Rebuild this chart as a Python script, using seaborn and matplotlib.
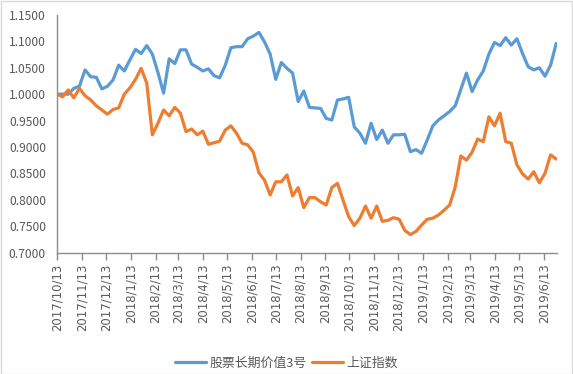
import matplotlib
matplotlib.use("Agg")
import matplotlib.pyplot as plt
from matplotlib.patches import Rectangle
import numpy as np
import pandas as pd
import seaborn as sns

# ---- data ----
series_names = ["股票长期价值3号", "上证指数"]
start_date = "2017-10-13"

fund_values = [
    1.000, 1.000, 1.000, 1.011, 1.015, 1.046, 1.033, 1.032, 1.010, 1.015,
    1.027, 1.055, 1.044, 1.065, 1.085, 1.077, 1.092, 1.076, 1.041, 1.002,
    1.067, 1.058, 1.084, 1.084, 1.057, 1.051, 1.044, 1.048, 1.035, 1.031,
    1.055, 1.088, 1.090, 1.090, 1.105, 1.110, 1.117, 1.099, 1.076, 1.028,
    1.060, 1.049, 1.040, 0.986, 1.006, 0.975, 0.974, 0.973, 0.954, 0.951,
    0.989, 0.991, 0.994, 0.938, 0.926, 0.907, 0.945, 0.914, 0.932, 0.907,
    0.923, 0.923, 0.924, 0.891, 0.895, 0.888, 0.913, 0.940, 0.951, 0.959,
    0.967, 0.978, 1.009, 1.040, 1.005, 1.027, 1.044, 1.076, 1.098, 1.092,
    1.107, 1.093, 1.105, 1.077, 1.052, 1.046, 1.050, 1.034, 1.055, 1.096,
]

index_values = [
    1.000, 0.995, 1.008, 0.993, 1.011, 0.997, 0.989, 0.978, 0.970, 0.962,
    0.971, 0.974, 1.000, 1.012, 1.028, 1.049, 1.021, 0.923, 0.945, 0.970,
    0.959, 0.975, 0.964, 0.929, 0.934, 0.923, 0.930, 0.905, 0.908, 0.911,
    0.932, 0.940, 0.926, 0.907, 0.904, 0.890, 0.851, 0.837, 0.809, 0.834,
    0.834, 0.847, 0.807, 0.823, 0.785, 0.804, 0.804, 0.796, 0.790, 0.823,
    0.831, 0.799, 0.768, 0.751, 0.765, 0.788, 0.765, 0.788, 0.759, 0.761,
    0.766, 0.763, 0.742, 0.734, 0.740, 0.752, 0.763, 0.765, 0.771, 0.780,
    0.790, 0.824, 0.883, 0.875, 0.890, 0.915, 0.910, 0.957, 0.940, 0.964,
    0.910, 0.907, 0.866, 0.849, 0.839, 0.853, 0.832, 0.850, 0.885, 0.877,
]

tick_labels = [
    "2017/10/13", "2017/11/13", "2017/12/13", "2018/1/13", "2018/2/13",
    "2018/3/13", "2018/4/13", "2018/5/13", "2018/6/13", "2018/7/13",
    "2018/8/13", "2018/9/13", "2018/10/13", "2018/11/13", "2018/12/13",
    "2019/1/13", "2019/2/13", "2019/3/13", "2019/4/13", "2019/5/13",
    "2019/6/13",
]
y_ticks = [0.70, 0.75, 0.80, 0.85, 0.90, 0.95, 1.00, 1.05, 1.10, 1.15]

# ---- build long-form table ----
dates = pd.date_range(start_date, periods=len(fund_values), freq="7D")
df = pd.DataFrame({
    "date": np.concatenate([dates, dates]),
    "value": fund_values + index_values,
    "series": [series_names[0]] * len(fund_values) + [series_names[1]] * len(index_values),
})

sns.set_theme(style="white")
plt.rcParams["font.family"] = ["Noto Sans CJK SC", "DejaVu Sans"]

fig = plt.figure(figsize=(5.73, 3.74), dpi=100)
ax = fig.add_axes([57 / 573, 1 - 252.5 / 374, 500 / 573, 237.5 / 374])

palette = {series_names[0]: "#5B9BD5", series_names[1]: "#ED7D31"}
sns.lineplot(data=df, x="date", y="value", hue="series", palette=palette,
             linewidth=2.3, ax=ax, legend=True)

ax.set_ylim(0.70, 1.15)
ax.set_yticks(y_ticks)
ax.set_yticklabels([f"{v:.4f}" for v in y_ticks])
ax.set_xlim(dates[0], dates[-1] + pd.Timedelta(days=1))
tick_dates = pd.to_datetime(tick_labels, format="%Y/%m/%d")
ax.set_xticks(tick_dates)
ax.set_xticklabels(tick_labels, rotation=90, family=["DejaVu Sans"],
                   fontsize=8.4, color="#595959")
ax.set_xlabel("")
ax.set_ylabel("")

grey_txt = "#595959"
spine_c = "#8C8C8C"
for s in ["top", "right"]:
    ax.spines[s].set_visible(False)
for s in ["left", "bottom"]:
    ax.spines[s].set_color(spine_c)
    ax.spines[s].set_linewidth(1.0)
ax.tick_params(axis="x", which="major", direction="out", length=5, width=1,
               color=spine_c, pad=3, bottom=True)
ax.tick_params(axis="y", which="major", length=0, labelsize=8.7,
               labelcolor=grey_txt, pad=8)

handles, labels = ax.get_legend_handles_labels()
ax.get_legend().remove()
leg = fig.legend(handles, labels, loc="center", bbox_to_anchor=(0.5, 1 - 363.5 / 374),
                 bbox_transform=fig.transFigure, ncol=2, frameon=False,
                 fontsize=9.3, handlelength=2.4, handletextpad=0.25,
                 columnspacing=0.4, labelcolor=grey_txt)
for line in leg.get_lines():
    line.set_linewidth(2.3)

fig.patches.append(Rectangle((0.5 / 573, 0.5 / 374), 1 - 1.5 / 573, 1 - 1.5 / 374,
                             transform=fig.transFigure, fill=False,
                             edgecolor="#D9D9D9", linewidth=1.0))

fig.savefig("out.png", dpi=100)
